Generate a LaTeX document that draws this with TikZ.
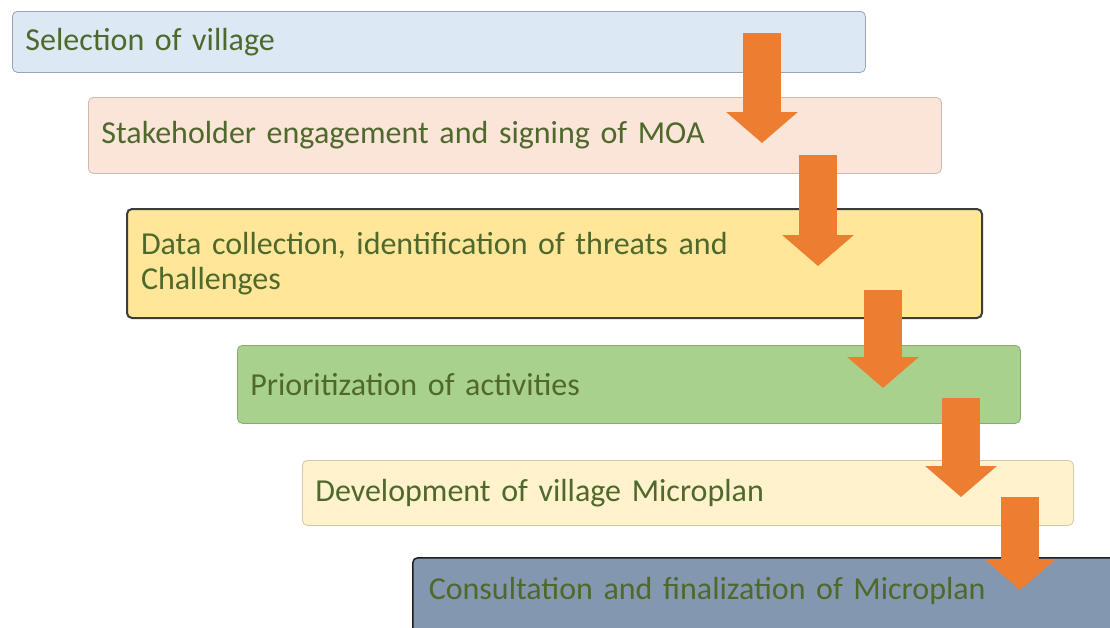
\documentclass[tikz,border=0pt]{standalone}
\usepackage{fontspec}
\setmainfont[WordSpace=0.8]{Carlito}
\usetikzlibrary{arrows.meta}
\definecolor{txt}{RGB}{79,104,44}
\definecolor{orng}{RGB}{237,125,49}
\definecolor{f1}{RGB}{220,233,245}\definecolor{d1}{RGB}{150,165,185}
\definecolor{f2}{RGB}{251,229,216}\definecolor{d2}{RGB}{205,185,175}
\definecolor{f3}{RGB}{255,230,153}\definecolor{d3}{RGB}{60,60,60}
\definecolor{f4}{RGB}{169,209,142}\definecolor{d4}{RGB}{135,170,110}
\definecolor{f5}{RGB}{255,242,204}\definecolor{d5}{RGB}{210,200,170}
\definecolor{f6}{RGB}{132,151,176}\definecolor{d6}{RGB}{30,30,30}
\tikzset{
  stepbox/.style={rectangle, rounded corners=5pt, anchor=north west, inner xsep=13pt, inner ysep=0pt,
    align=left, text=txt, font=\fontsize{32}{35}\selectfont, line width=0.8pt},
  bigarrow/.style={draw=orng, line width=38pt, line cap=butt,
    -{Triangle[width=70pt,length=31pt,fill=orng]}}
}
\begin{document}
\begin{tikzpicture}[x=1pt,y=-1pt]
\path[use as bounding box, clip] (0,0) rectangle (1110,627);
\fill[white] (0,0) rectangle (1110,627);
\node[stepbox, fill=f1, draw=d1, minimum width=853pt, minimum height=61pt, text width=827pt] (b1) at (12,11) {Selection of village};
\node[stepbox, fill=f2, draw=d2, minimum width=853pt, minimum height=76pt, text width=827pt] (b2) at (88,97) {Stakeholder engagement and signing of MOA};
\node[stepbox, fill=f3, draw=d3, line width=2pt, minimum width=855pt, minimum height=109pt, text width=827pt, inner xsep=14pt] (b3) at (126,208) {Data collection, identification of threats and\\Challenges};
\node[stepbox, fill=f4, draw=d4, minimum width=783pt, minimum height=78pt, text width=757pt] (b4) at (237,345) {Prioritization of activities};
\node[stepbox, fill=f5, draw=d5, minimum width=771pt, minimum height=65pt, text width=745pt] (b5) at (302,460) {Development of village Microplan};
\node[stepbox, fill=f6, draw=d6, line width=1.5pt, minimum width=740pt, minimum height=120pt, text width=708pt, inner xsep=16pt, text height=42pt, text depth=78pt] (b6) at (412,557) {Consultation and finalization of Microplan};
\coordinate (a1s) at (762,33);  \coordinate (a1e) at (762,143);
\coordinate (a2s) at (818,155); \coordinate (a2e) at (818,266);
\coordinate (a3s) at (883,290); \coordinate (a3e) at (883,388);
\coordinate (a4s) at (961,398); \coordinate (a4e) at (961,497);
\coordinate (a5s) at (1020,497); \coordinate (a5e) at (1020,590);
\foreach \i in {1,...,5} {\draw[bigarrow] (a\i s) -- (a\i e);}
\end{tikzpicture}
\end{document}
